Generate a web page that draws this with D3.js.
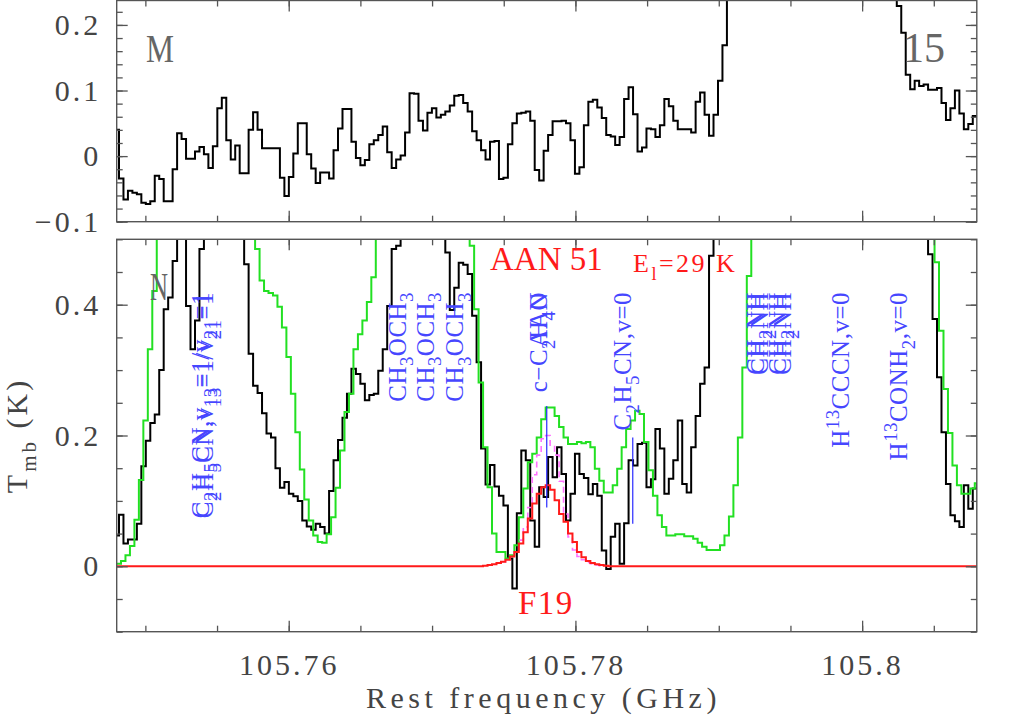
<!DOCTYPE html>
<html><head><meta charset="utf-8">
<script src="https://cdn.jsdelivr.net/npm/d3@7"></script>
<style>body{margin:0;background:#fff}svg{display:block}</style>
</head><body>
<svg id="c" width="1025" height="717"></svg>
<script>
// ---------------- DATA ----------------
const freqDomain = [105.748, 105.808];          // GHz, shared x range of both panels
const xMajorTicks = [105.76, 105.78, 105.8];
const xMinorStep = 0.005;
const topYTicks = [-0.1, 0, 0.1, 0.2];
const topYMinorStep = 0.02;
const botYTicks = [0, 0.2, 0.4];
const botYMinorStep = 0.05;

const chanStart = 105.747848;   // left edge of channel 0 (GHz)
const chanWidth = 0.00031183;   // channel width (GHz)
const modelShift = 0.00014;     // model channel grid offset (GHz)

// upper panel (window M), observed spectrum (K)
const spectrumM = [
 0.040,-0.034,-0.066,-0.053,-0.056,-0.058,-0.071,-0.073,-0.069,-0.030,
-0.035,-0.069,-0.069,-0.020, 0.035, 0.026,-0.004,-0.004, 0.007, 0.014,
 0.003,-0.018, 0.015, 0.073, 0.089, 0.024,-0.005, 0.016,-0.026,-0.026,
 0.040, 0.067, 0.040, 0.012, 0.012, 0.012, 0.012,-0.033,-0.061,-0.032,
 0.004, 0.050, 0.050, 0.003,-0.019,-0.041,-0.025,-0.025,-0.034, 0.009,
 0.042, 0.072, 0.072, 0.022,-0.003,-0.014,-0.006, 0.018, 0.024, 0.032,
 0.045, 0.006,-0.018,-0.005, 0.001, 0.036, 0.096, 0.095, 0.054, 0.039,
 0.066, 0.073, 0.059, 0.063, 0.068, 0.077, 0.092, 0.093, 0.081, 0.068,
 0.038, 0.024, 0.009,-0.005, 0.022, 0.023,-0.035,-0.033, 0.018, 0.050,
 0.065, 0.066, 0.068, 0.054,-0.021,-0.037, 0.008, 0.032, 0.053, 0.053,
 0.054, 0.050, 0.024,-0.027,-0.017, 0.047, 0.083, 0.086, 0.074, 0.058,
 0.032, 0.030, 0.017, 0.029, 0.087, 0.105, 0.064, 0.007, 0.013, 0.042,
 0.041, 0.029, 0.047, 0.087, 0.076, 0.054, 0.041, 0.041, 0.041, 0.036,
 0.083, 0.097, 0.063, 0.031, 0.063, 0.115, 0.169,
 0.42, 0.58, 0.76, 0.95, 1.12, 1.26, 1.36, 1.42, 1.44, 1.42, 1.36, 1.28, 1.18,
 1.08, 0.98, 0.90, 0.84, 0.80, 0.78, 0.78, 0.80, 0.84, 0.90, 0.96, 1.00, 1.02,
 1.00, 0.95, 0.88, 0.80, 0.72, 0.64, 0.56, 0.49, 0.43, 0.37, 0.32, 0.27,
 0.229, 0.188, 0.124, 0.102, 0.115, 0.107, 0.109, 0.101, 0.101, 0.104,
 0.081, 0.055, 0.073, 0.100, 0.065, 0.041, 0.049, 0.061
];

// lower panel (window N), observed spectrum (K)
const spectrumN = [
 0.047, 0.079, 0.035, 0.041, 0.041, 0.065, 0.153, 0.192, 0.219, 0.232,
 0.300, 0.393, 0.411, 0.467, 0.56, 0.54, 0.398, 0.332, 0.376, 0.485,
 0.62, 0.78, 0.92, 1.02, 1.05, 0.98, 0.86, 0.72, 0.58, 0.462,
 0.325, 0.276, 0.265, 0.234, 0.203, 0.197, 0.150, 0.120, 0.129, 0.111,
 0.107, 0.100, 0.070, 0.061, 0.056, 0.065, 0.060, 0.050, 0.115, 0.162,
 0.193, 0.227, 0.264, 0.302, 0.294, 0.279, 0.254, 0.262, 0.264, 0.299,
 0.332, 0.398, 0.485, 0.490, 0.56, 0.63, 0.70, 0.74, 0.71, 0.66,
 0.60, 0.57, 0.55, 0.53, 0.480, 0.392, 0.426, 0.464, 0.461, 0.447,
 0.383, 0.312, 0.180, 0.125, 0.155, 0.122, 0.108, 0.093, 0.012,-0.034,
 0.081, 0.177, 0.162, 0.070, 0.030, 0.121, 0.106, 0.167, 0.136, 0.182,
 0.141, 0.070, 0.111, 0.172, 0.141, 0.135, 0.110, 0.126, 0.108, 0.024,
-0.004, 0.045, 0.065, 0.004, 0.066, 0.162, 0.154, 0.187, 0.189, 0.121,
 0.133, 0.210, 0.180, 0.111, 0.134, 0.162, 0.223, 0.126, 0.113, 0.182,
 0.230, 0.279, 0.304, 0.475,
 0.62, 0.85, 1.10, 1.35, 1.55, 1.70, 1.78, 1.80, 1.76, 1.68, 1.56, 1.42,
 1.28, 1.15, 1.04, 0.95, 0.88, 0.83, 0.80, 0.78, 0.77, 0.78, 0.80, 0.84,
 0.90, 0.98, 1.08, 1.18, 1.26, 1.30, 1.28, 1.22, 1.14, 1.05, 0.96, 0.88,
 0.82, 0.78, 0.75, 0.74, 0.73, 0.72, 0.70, 0.68, 0.65, 0.62, 0.59, 0.56,
 0.477, 0.378, 0.289, 0.205, 0.126, 0.078, 0.069, 0.060, 0.124, 0.088, 0.119, 0.126
];

// full model of all species (green)
const modelAll = [
 0.004, 0.008, 0.017, 0.031, 0.071, 0.132, 0.223, 0.332, 0.421, 0.56,
 0.70, 0.84, 0.96, 1.05, 1.10, 1.12, 1.10, 1.04, 0.96, 0.88,
 0.82, 0.79, 0.78, 0.80, 0.84, 0.88, 0.86, 0.78, 0.68, 0.60,
 0.54, 0.485, 0.437, 0.421, 0.418, 0.414, 0.397, 0.365, 0.320, 0.264,
 0.205, 0.148, 0.102, 0.070, 0.047, 0.037, 0.036, 0.049, 0.075, 0.120,
 0.177, 0.236, 0.264, 0.332, 0.355, 0.376, 0.404, 0.442,
 0.53, 0.62, 0.72, 0.84, 0.96, 1.06, 1.14, 1.18, 1.18, 1.14, 1.08,
 1.00, 0.94, 0.90, 0.88, 0.86, 0.82, 0.76, 0.68, 0.60, 0.54,
 0.490, 0.393, 0.281, 0.182, 0.121, 0.050, 0.022, 0.022, 0.012, 0.017, 0.032,
 0.075, 0.119, 0.159, 0.172, 0.197, 0.225, 0.243, 0.243, 0.230, 0.213,
 0.197, 0.187, 0.187, 0.190, 0.188, 0.190, 0.182, 0.149, 0.131, 0.113,
 0.113, 0.124, 0.149, 0.182, 0.210, 0.223, 0.238, 0.233, 0.190, 0.147,
 0.108, 0.078, 0.060, 0.047, 0.047, 0.049, 0.049, 0.046, 0.046, 0.042,
 0.036, 0.030, 0.025, 0.025, 0.025, 0.032, 0.047, 0.076, 0.124, 0.197, 0.304, 0.444,
 0.60, 0.80, 1.02, 1.24, 1.42, 1.56, 1.64, 1.66, 1.62, 1.54, 1.44, 1.32,
 1.20, 1.10, 1.02, 0.96, 0.92, 0.90, 0.90, 0.92, 0.96, 1.02, 1.10, 1.18,
 1.24, 1.26, 1.24, 1.18, 1.10, 1.02, 0.94, 0.88, 0.84, 0.82, 0.80, 0.78,
 0.74, 0.70, 0.64, 0.58, 0.53,
 0.465, 0.360, 0.271, 0.204, 0.154, 0.124, 0.111, 0.111, 0.119, 0.127, 0.130
];

// model of AAN alone (red)
const modelAAN = [
 0,0,0,0,0,0,0,0,0,0, 0,0,0,0,0,0,0,0,0,0,
 0,0,0,0,0,0,0,0,0,0, 0,0,0,0,0,0,0,0,0,0,
 0,0,0,0,0,0,0,0,0,0, 0,0,0,0,0,0,0,0,0,0,
 0,0,0,0,0,0,0,0,0,0, 0,0,0,0,0,0,0,0,0,0,
 0,0,0.001,0.002,0.003,0.005,0.007,0.010,0.015,0.022,
 0.035,0.052,0.073,0.096,0.111,0.121,0.124,0.117,0.101,0.080,
 0.068,0.050,0.037,0.022,0.014,0.008,0.005,0.003,0.002,0.001,
 0,0,0,0,0,0,0,0,0,0, 0,0,0,0,0,0,0,0,0,0,
 0,0,0,0,0,0,0,0,0,0, 0,0,0,0,0,0,0,0,0,0,
 0,0,0,0,0,0,0,0,0,0, 0,0,0,0,0,0,0,0,0,0,
 0,0,0,0,0,0,0,0,0,0, 0,0,0,0,0,0,0,0,0,0,
 0,0,0,0,0,0,0,0,0,0, 0,0,0,0
];

// dashed magenta profile, channels 86..108
const dashedFirstChannel = 86;
const modelDashed = [0.007,0.010,0.015,0.022,0.040,0.060,0.090,0.140,0.170,0.195,
 0.200,0.185,0.170,0.130,0.080,0.045,0.025,0.015,0.010,0.006,0.004,0.002,0.001];

// line identifications (blue)
const lineLabels = [
 {f:105.75444, t:"C_2H_5CN,v_{13}=1/v_{21}=1"},
 {f:105.75472, t:"C_2H_5CN,v_{13}=1/v_{21}=1"},
 {f:105.76818, t:"CH_3OCH_3"},
 {f:105.77013, t:"CH_3OCH_3"},
 {f:105.77216, t:"CH_3OCH_3"},
 {f:105.77802, t:"c−C_2H_4O"},
 {f:105.77802, t:"AAN"},
 {f:105.78388, t:"C_2H_5CN,v=0"},
 {f:105.79316, t:"CH_2NH"},
 {f:105.79344, t:"CH_2NH"},
 {f:105.79470, t:"CH_2NH"},
 {f:105.79505, t:"CH_2NH"},
 {f:105.79909, t:"H^{13}CCCN,v=0"},
 {f:105.80314, t:"H^{13}CONH_2,v=0"}
];
const lineMarkers = [
 {f:105.77800, from:0.245, to:0.090},
 {f:105.78400, from:0.197, to:0.065}
];

// ---------------- DRAWING ----------------
const svg = d3.select("#c");
svg.append("rect").attr("width",1025).attr("height",717).attr("fill","#fff");

const L = 116.7, R = 976.8;
const x = d3.scaleLinear().domain(freqDomain).range([L, R]);
const topP = {t:0.5, b:221.7};
const botP = {t:239.3, b:631.7};
const yTop = d3.scaleLinear().domain([-0.1, 0.238]).range([221.7, 0]);
const yBot = d3.scaleLinear().domain([-0.1, 0.5]).range([631.7, 239.3]);

const defs = svg.append("defs");
[["clipTop", topP], ["clipBot", botP]].forEach(([id,p]) => {
  defs.append("clipPath").attr("id", id).append("rect")
    .attr("x", L).attr("y", p.t).attr("width", R-L).attr("height", p.b-p.t);
});

function steps(vals, start, firstIndex) {
  const pts = vals.map((v,i) => [start + (firstIndex+i)*chanWidth, v]);
  pts.push([start + (firstIndex+vals.length)*chanWidth, vals[vals.length-1]]);
  return pts;
}
function drawSpectrum(g, y, vals, start, firstIndex, color, width, dash) {
  const line = d3.line().curve(d3.curveStepAfter).x(d => x(d[0])).y(d => y(d[1]));
  g.append("path").datum(steps(vals, start, firstIndex)).attr("d", line)
    .attr("fill","none").attr("stroke", color).attr("stroke-width", width)
    .attr("stroke-linejoin","miter").attr("stroke-dasharray", dash || null);
}

const frameColor = "#555";
const tickFont = "'Liberation Serif', 'Times New Roman', serif";
const fmtX = d3.format(".2~f");
const fmtY = d3.format("~g");

function rangeStep(a, b, s) {
  const n = Math.round((b - a) / s);
  return d3.range(n + 1).map(i => +(a + i*s).toFixed(6));
}

function axes(p, y, yMajor, yMinorStep, yLo, yHi, labelX) {
  const g = svg.append("g");
  const xMinor = rangeStep(105.75, 105.805, xMinorStep);
  const yMinor = rangeStep(yLo, yHi, yMinorStep);
  const mk = (axis, tx, ty) => {
    const a = g.append("g").attr("transform", `translate(${tx},${ty})`).call(axis);
    a.select(".domain").remove();
    a.selectAll("line").attr("stroke", frameColor).attr("stroke-width", 1.3);
    return a;
  };
  mk(d3.axisBottom(x).tickValues(xMinor).tickSize(-6).tickFormat(""), 0, p.b);
  mk(d3.axisTop(x).tickValues(xMinor).tickSize(-6).tickFormat(""), 0, p.t);
  const xb = mk(d3.axisBottom(x).tickValues(xMajorTicks).tickSize(-11).tickPadding(22)
     .tickFormat(labelX ? fmtX : ""), 0, p.b);
  mk(d3.axisTop(x).tickValues(xMajorTicks).tickSize(-11).tickFormat(""), 0, p.t);
  mk(d3.axisLeft(y).tickValues(yMinor).tickSize(-6).tickFormat(""), L, 0);
  mk(d3.axisRight(y).tickValues(yMinor).tickSize(-6).tickFormat(""), R, 0);
  const yl = mk(d3.axisLeft(y).tickValues(yMajor).tickSize(-11).tickPadding(15.5).tickFormat(fmtY), L, 0);
  mk(d3.axisRight(y).tickValues(yMajor).tickSize(-11).tickFormat(""), R, 0);
  [xb, yl].forEach(a => a.selectAll("text").attr("font-family", tickFont)
      .attr("font-size", 30).attr("fill", "#444").attr("letter-spacing", "3px"));
  g.append("rect").attr("x", L).attr("y", p.t).attr("width", R-L).attr("height", p.b-p.t)
    .attr("fill","none").attr("stroke", frameColor).attr("stroke-width", 1.4);
}

// upper panel
const gTop = svg.append("g").attr("clip-path","url(#clipTop)");
drawSpectrum(gTop, yTop, spectrumM, chanStart, 0, "#000", 2);
axes(topP, yTop, topYTicks, topYMinorStep, -0.1, 0.22, false);

// lower panel
const gBot = svg.append("g").attr("clip-path","url(#clipBot)");
drawSpectrum(gBot, yBot, spectrumN, chanStart, 0, "#000", 2);
drawSpectrum(gBot, yBot, modelAll, chanStart + modelShift, 0, "#22e022", 2);
drawSpectrum(gBot, yBot, modelDashed, chanStart + modelShift, dashedFirstChannel, "#ff70ff", 1.6, "6,4");
drawSpectrum(gBot, yBot, modelAAN, chanStart + modelShift, 0, "#ff1a1a", 2);
axes(botP, yBot, botYTicks, botYMinorStep, -0.1, 0.5, true);

// rich text helper (sub/superscripts)
function rich(textSel, str, size, scale) {
  scale = scale || 0.7;
  const re = /([_^])(\{[^}]*\}|.)/g;
  const parts = []; let last = 0, m;
  while ((m = re.exec(str))) {
    if (m.index > last) parts.push({t: str.slice(last, m.index), k: 0});
    let t = m[2]; if (t[0] === "{") t = t.slice(1, -1);
    parts.push({t, k: m[1] === "_" ? 1 : -1});
    last = re.lastIndex;
  }
  if (last < str.length) parts.push({t: str.slice(last), k: 0});
  let cur = 0;
  parts.forEach(pt => {
    const target = pt.k === 1 ? size*0.3 : pt.k === -1 ? -size*0.42 : 0;
    textSel.append("tspan").attr("dy", target - cur)
      .attr("font-size", pt.k ? size*scale : size).text(pt.t);
    cur = target;
  });
}

// blue marker lines
svg.append("g").selectAll("line").data(lineMarkers).join("line")
  .attr("x1", d => x(d.f)).attr("x2", d => x(d.f))
  .attr("y1", d => yBot(d.from)).attr("y2", d => yBot(d.to))
  .attr("stroke", "#2a2aff").attr("stroke-width", 1.2);

// blue labels (rotated, end anchored at a fixed height)
const labelSize = 25;
lineLabels.forEach(d => {
  const t = svg.append("text")
    .attr("transform", `translate(${x(d.f)},292) rotate(-90)`)
    .attr("text-anchor", "end").attr("font-family", tickFont)
    .attr("font-size", labelSize).attr("fill", "#4646ff")
    .attr("letter-spacing", "0.5px");
  const inner = t.append("tspan").attr("dy", labelSize*0.33);
  rich(inner, d.t, labelSize, 0.75);
});

// red annotations
const red = "#ff1a1a";
svg.append("text").attr("x", 490).attr("y", 270).attr("font-family", tickFont)
  .attr("font-size", 33).attr("fill", red).text("AAN 51");
const el = svg.append("text").attr("x", 633).attr("y", 272).attr("font-family", tickFont)
  .attr("font-size", 26).attr("fill", red).attr("letter-spacing","2.5px");
rich(el, "E_l=29 K", 26);
svg.append("text").attr("x", 518).attr("y", 614).attr("font-family", tickFont)
  .attr("font-size", 33).attr("fill", red).attr("letter-spacing","1.5px").text("F19");

// panel letters
const grey = "#666";
svg.append("text").attr("x", 146).attr("y", 62).attr("font-family", tickFont)
  .attr("font-size", 40).attr("fill", grey).attr("textLength", 28)
  .attr("lengthAdjust","spacingAndGlyphs").text("M");
svg.append("text").attr("x", 903).attr("y", 62).attr("font-family", tickFont)
  .attr("font-size", 42).attr("fill", grey).attr("textLength", 42)
  .attr("lengthAdjust","spacingAndGlyphs").text("15");
svg.append("text").attr("x", 150).attr("y", 300).attr("font-family", tickFont)
  .attr("font-size", 40).attr("fill", grey).attr("textLength", 18)
  .attr("lengthAdjust","spacingAndGlyphs").text("N");

// axis titles
svg.append("text").attr("x", 366).attr("y", 708).attr("font-family", tickFont)
  .attr("font-size", 30).attr("fill", "#444").attr("letter-spacing", "4.5px")
  .text("Rest frequency (GHz)");
const yt = svg.append("text").attr("transform", "translate(27,435.5) rotate(-90)")
  .attr("text-anchor", "middle").attr("font-family", tickFont)
  .attr("font-size", 30).attr("fill", "#444").attr("letter-spacing", "3px");
rich(yt, "T_{mb} (K)", 30);
</script>
</body></html>
